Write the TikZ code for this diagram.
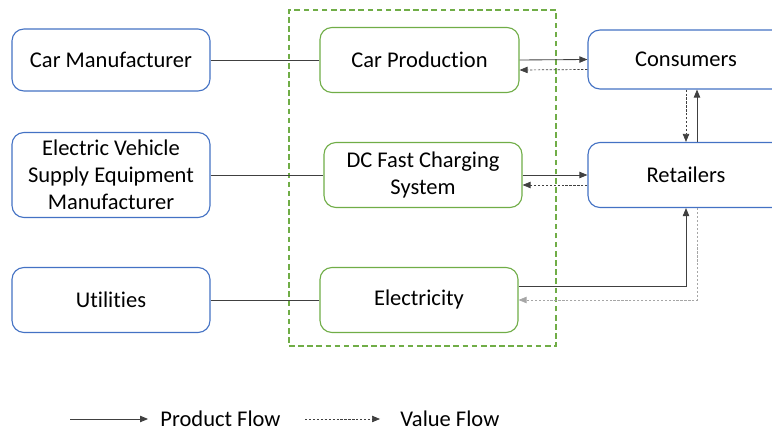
\documentclass[tikz,border=0pt]{standalone}
\usepackage{fontspec}
\setmainfont{Carlito}[Ligatures=NoCommon]
\usetikzlibrary{arrows.meta,positioning}
\definecolor{actorblue}{HTML}{4472C4}
\definecolor{stagegreen}{HTML}{70AD47}
\definecolor{flowgray}{HTML}{404040}
\tikzset{
  auto,
  actor/.style={
    rectangle, rounded corners=3mm, line width=0.8pt,
    draw=actorblue, fill=white, align=center,
    font=\fontsize{16}{19.2}\selectfont
  },
  %
  stage/.style={
    rectangle, rounded corners=3mm, line width=0.8pt,
    draw=stagegreen, fill=white, align=center,
    font=\fontsize{16}{19.2}\selectfont
  },
  %
  product/.style={
    draw=flowgray, line width=0.6pt, -{Triangle[length=2mm,width=1.6mm]}
  },
  %
  value/.style={
    draw=flowgray, line width=0.5pt, dash pattern=on 1.6pt off 1.2pt,
    -{Triangle[length=2mm,width=1.6mm]}
  },
  %
  legendtext/.style={
    anchor=west, inner ysep=0pt, font=\fontsize{16}{19.2}\selectfont
  }
}

\begin{document}
\begin{tikzpicture}[x=0.025cm, y=-0.025cm]
\useasboundingbox (0,0) rectangle (772,431);

% value chain boundary
\node(chain)[draw=stagegreen, line width=0.8pt, dash pattern=on 4pt off 2.5pt,
  minimum width=6.675cm, minimum height=8.4cm] at (422.5,178) {};

% suppliers
\node(carman)[actor, minimum width=4.95cm, minimum height=1.55cm] at (111,60) {Car Manufacturer};
\node(evse)[actor, minimum width=4.95cm, minimum height=2.125cm] at (111,175) {Electric Vehicle\\Supply Equipment\\Manufacturer};
\node(util)[actor, minimum width=4.95cm, minimum height=1.625cm] at (111,300) {Utilities};

% stages
\node(carprod)[stage, minimum width=4.975cm, minimum height=1.625cm] at (419.5,60) {Car Production};
\node(dcfc)[stage, minimum width=4.95cm, minimum height=1.625cm] at (423,175) {DC Fast Charging\\System};
\node(elec)[stage, minimum width=4.95cm, minimum height=1.625cm] at (419,300) {Electricity};

% market
\node(cons)[actor, minimum width=4.9cm, minimum height=1.475cm] at (686,59.5) {Consumers};
\node(ret)[actor, minimum width=4.9cm, minimum height=1.625cm] at (686,175) {Retailers};

\draw[draw=flowgray, line width=0.6pt] (carman) -- (carprod);
\draw[draw=flowgray, line width=0.6pt] (evse) -- (dcfc);
\draw[draw=flowgray, line width=0.6pt] (util) -- (elec);

\draw[product] (carprod.east) -- (cons.west);
\draw[value] ([yshift=-0.25cm]cons.west) -- ([yshift=-0.25cm]carprod.east);
\draw[product] (dcfc.east) -- (ret.west);
\draw[value] ([yshift=-0.25cm]ret.west) -- ([yshift=-0.25cm]dcfc.east);
\draw[value] (cons.south) -- (ret.north);
\draw[product] ([xshift=0.275cm]ret.north) -- ([xshift=0.275cm]cons.south);
\draw[product] ([yshift=0.35cm]elec.east) -| (ret.south);
\draw[value, draw=gray!70] ([xshift=0.275cm]ret.south) |- (elec.east);

% legend
\node(prodlbl)[legendtext] at (155.5,419) {Product Flow};
\node(vallbl)[legendtext] at (395.5,419) {Value Flow};
\coordinate(prodstart) at (70,419);
\coordinate(valstart) at (305,419);
\draw[product, shorten >=5.3pt] (prodstart) -- (prodlbl.west);
\draw[value, shorten >=11pt] (valstart) -- (vallbl.west);

\end{tikzpicture}
\end{document}
